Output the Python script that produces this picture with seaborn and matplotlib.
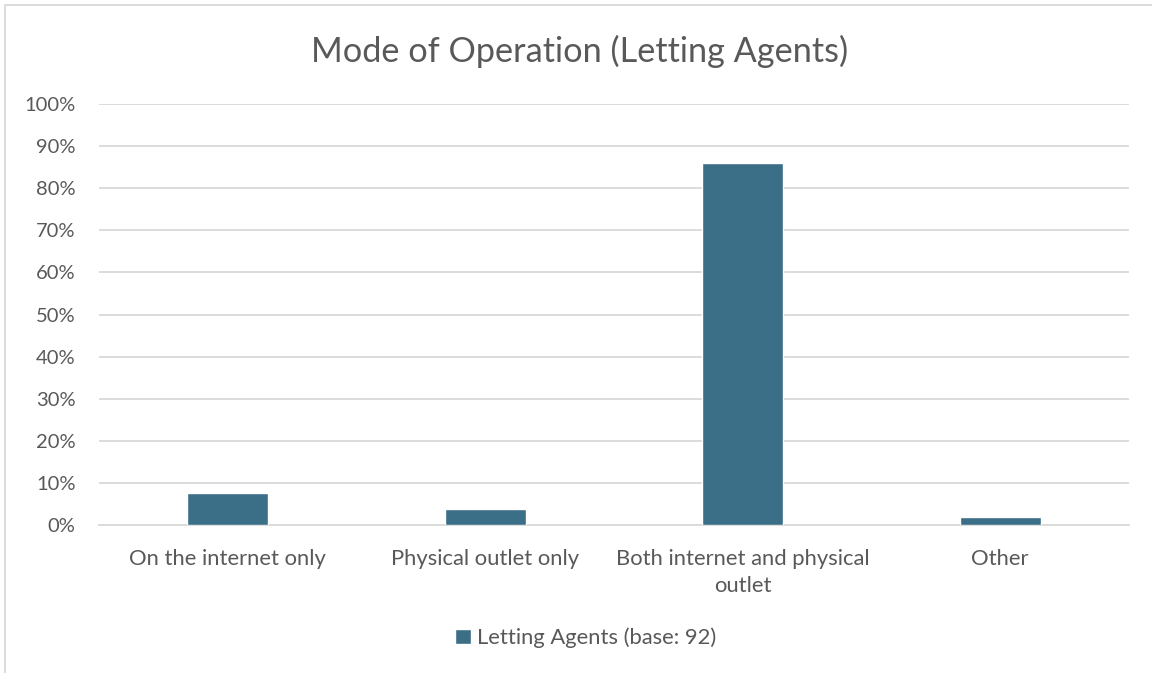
import matplotlib
matplotlib.use("Agg")
import matplotlib.pyplot as plt
from matplotlib.patches import Rectangle
from matplotlib.ticker import FuncFormatter
import seaborn as sns
import pandas as pd

# Share of letting agents by mode of operation (base: 92)
categories = ["On the internet only", "Physical outlet only",
              "Both internet and physical\noutlet", "Other"]
shares = [7.7, 3.8, 85.9, 1.8]
series_label = "Letting Agents (base: 92)"
title = "Mode of Operation (Letting Agents)"
y_ticks = list(range(0, 101, 10))

BAR = "#3B6E87"
TEXT = "#595959"
GRID = "#D9D9D9"

sns.set_theme(style="white")
plt.rcParams["font.family"] = ["Lato", "DejaVu Sans"]

W, H = 1152, 673
fig = plt.figure(figsize=(W / 100, H / 100), dpi=100)
fig.patch.set_facecolor("white")
ax = fig.add_axes([99 / W, (H - 525) / H, (1129 - 99) / W, (525 - 104) / H])

df = pd.DataFrame({"category": categories, "share": shares})
sns.barplot(data=df, x="category", y="share", color=BAR, saturation=1,
            width=0.315, label=series_label, ax=ax, zorder=3)

ax.set_xlim(-0.5, len(categories) - 0.5)
ax.set_ylim(0, 100)
ax.set_yticks(y_ticks)
ax.yaxis.set_major_formatter(FuncFormatter(lambda v, _: f"{v:.0f}%"))
ax.grid(axis="y", color=GRID, linewidth=1.3, zorder=0)
ax.set_axisbelow(True)
for side in ["top", "right", "left"]:
    ax.spines[side].set_visible(False)
ax.spines["bottom"].set_color(GRID)
ax.spines["bottom"].set_linewidth(1.3)
ax.set_xlabel("")
ax.set_ylabel("")
ax.tick_params(axis="both", length=0, colors=TEXT)
ax.tick_params(axis="y", pad=17, labelsize=14.5)
ax.tick_params(axis="x", pad=17, labelsize=15.8)
for lbl in ax.get_xticklabels():
    lbl.set_multialignment("center")
    lbl.set_linespacing(1.45)

fig.text(0.503, 1 - 51 / H, title, ha="center", va="center",
         fontsize=24.7, color=TEXT)

leg = ax.legend(loc="center", bbox_to_anchor=(586 / W, 1 - 638 / H),
                bbox_transform=fig.transFigure, frameon=False,
                fontsize=15.8, handlelength=0.7, handleheight=0.7,
                handletextpad=0.3, labelcolor=TEXT)

fig.patches.append(Rectangle((5 / W, -0.05), 2.0, 1 - 5 / H + 0.05,
                             transform=fig.transFigure, fill=False,
                             edgecolor=GRID, linewidth=1.3))

fig.savefig("out.png", dpi=100, facecolor="white")
